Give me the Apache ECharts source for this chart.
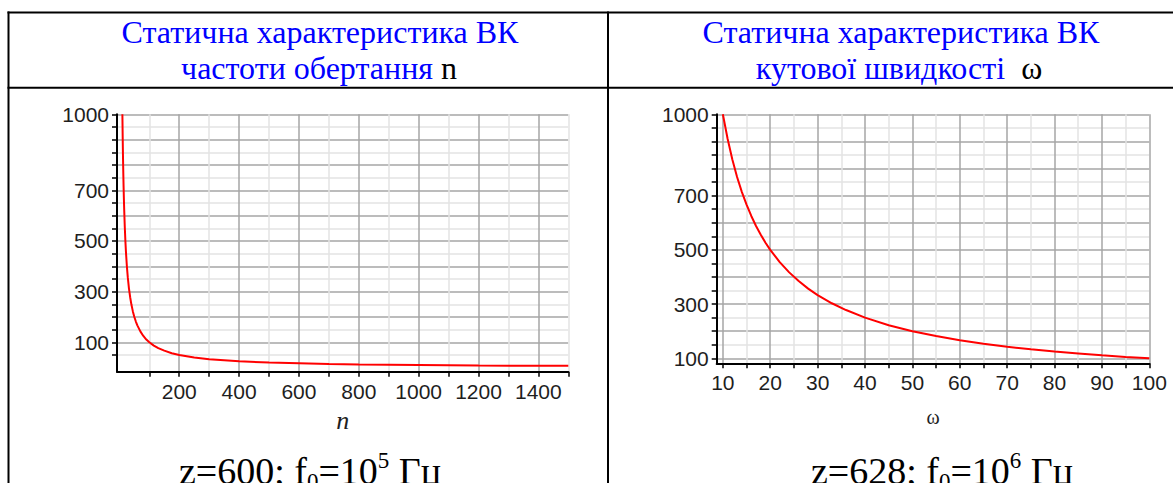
<!DOCTYPE html>
<html>
<head>
<meta charset="utf-8">
<script src="https://cdn.jsdelivr.net/npm/echarts@6/dist/echarts.min.js"></script>
<style>
  html, body { margin: 0; padding: 0; background: #fff; }
  #chart { width: 1173px; height: 483px; }
</style>
</head>
<body>
<div id="chart"></div>
<script>
// ---- Left panel: output vs rotation frequency n (z = 600, f0 = 10^5 Hz) ----
const nValues = [10, 11, 12, 13, 14, 15, 16, 18, 20, 22, 25, 28, 32, 36, 40, 45, 50, 55, 60, 70,
                 80, 90, 100, 115, 130, 150, 175, 200, 250, 300, 350, 400, 500, 600, 700, 800,
                 900, 1000, 1200, 1500];
const nOutput = [1000, 910, 833, 770, 715, 667, 625, 556, 500, 455, 400, 357, 312, 278, 250, 222, 200, 182, 167, 143,
                 125, 111, 100, 87, 77, 67, 57, 50, 40, 33, 29, 25, 20, 17, 14, 12,
                 11, 10, 8, 7];

// ---- Right panel: output vs angular velocity ω (z = 628, f0 = 10^6 Hz) ----
const wValues = [10, 11, 12, 13, 14, 15, 16, 17, 18, 19, 20, 22, 24, 26, 28, 30, 33, 36, 40, 45,
                 50, 55, 60, 65, 70, 75, 80, 85, 90, 95, 100];
const wOutput = [1000, 910, 833, 769, 714, 667, 625, 588, 556, 526, 500, 455, 417, 385, 357, 333, 303, 278, 250, 222,
                 200, 182, 167, 154, 143, 133, 125, 118, 111, 105, 100];

// ---- Tick / grid positions and tick labels ----
const nTicks = [100, 200, 300, 400, 500, 600, 700, 800, 900, 1000, 1100, 1200, 1300, 1400, 1500];
const nTickLabels = [200, 400, 600, 800, 1000, 1200, 1400];
const leftYTicks = [50, 100, 150, 200, 250, 300, 350, 400, 450, 500, 550, 600, 650, 700, 750, 800, 850, 900, 950, 1000];
const leftYTickLabels = [100, 300, 500, 700, 1000];
const wTicks = [10, 15, 20, 25, 30, 35, 40, 45, 50, 55, 60, 65, 70, 75, 80, 85, 90, 95, 100];
const wTickLabels = [10, 20, 30, 40, 50, 60, 70, 80, 90, 100];
const rightYTicks = [100, 150, 200, 250, 300, 350, 400, 450, 500, 550, 600, 650, 700, 750, 800, 850, 900, 950, 1000];
const rightYTickLabels = [100, 300, 500, 700, 1000];

// ---- Text ----
const titleLine1 = 'Статична характеристика ВК';
const leftTitleLine2 = 'частоти обертання ';
const leftTitleVar = 'n';
const rightTitleLine2 = 'кутової швидкості  ';
const rightTitleVar = 'ω';
const leftCaption = ['z=600; f', '0', '=10', '5', ' Гц'];
const rightCaption = ['z=628; f', '0', '=10', '6', ' Гц'];

const LABEL_FONT = "'Liberation Sans', Arial, sans-serif";
const SERIF = "'Liberation Serif', 'DejaVu Serif', serif";
const GRID_DARK = '#a6a6a6';
const GRID_LIGHT = '#e3e3e3';

function axisCommon(opts) {
  return {
    type: 'value',
    gridIndex: opts.grid,
    min: opts.min,
    max: opts.max,
    axisLine: { show: true, onZero: false, lineStyle: { color: '#000', width: 2 } },
    axisTick: { show: true, customValues: opts.ticks, length: 5, lineStyle: { color: '#000', width: 1.5 } },
    axisLabel: {
      customValues: opts.labels, margin: opts.margin, color: '#1e1e1e',
      fontFamily: LABEL_FONT, fontSize: 21,
      formatter: v => String(v)
    },
    splitLine: { show: true, lineStyle: { color: opts.gridColors, width: 1.5 } },
    name: opts.name || '',
    nameLocation: 'middle',
    nameGap: opts.nameGap || 0,
    nameTextStyle: opts.nameStyle || {}
  };
}

function captionText(parts) {
  return '{t|' + parts[0] + '}{sub|' + parts[1] + '}{t|' + parts[2] + '}{sup|' + parts[3] + '}{t|' + parts[4] + '}';
}
const captionRich = {
  t:   { fontFamily: SERIF, fontSize: 38, lineHeight: 44, verticalAlign: 'middle', fill: '#000' },
  sub: { fontFamily: SERIF, fontSize: 23, lineHeight: 24, verticalAlign: 'bottom', fill: '#000' },
  sup: { fontFamily: SERIF, fontSize: 23, lineHeight: 27, verticalAlign: 'top', fill: '#000' }
};
const titleRich = {
  a: { fontFamily: SERIF, fontSize: 32, lineHeight: 36, verticalAlign: 'middle', fill: '#0000ff' },
  b: { fontFamily: SERIF, fontSize: 32, lineHeight: 36, verticalAlign: 'middle', fill: '#000' }
};

const chart = echarts.init(document.getElementById('chart'), null, { renderer: 'svg', width: 1173, height: 483 });

chart.setOption({
  animation: false,
  backgroundColor: '#fff',
  grid: [
    { left: 117, top: 114.3, width: 451.3, height: 257.4 },
    { left: 716.7, top: 114.3, width: 432.6, height: 249 }
  ],
  xAxis: [
    axisCommon({ grid: 0, min: -8, max: 1500, ticks: nTicks, labels: nTickLabels, margin: 9,
      gridColors: [GRID_LIGHT, GRID_DARK], name: 'n', nameGap: 36,
      nameStyle: { fontFamily: SERIF, fontStyle: 'italic', fontSize: 26, color: '#1e1e1e' } }),
    axisCommon({ grid: 1, min: 8.7, max: 100, ticks: wTicks, labels: wTickLabels, margin: 9,
      gridColors: [GRID_DARK, GRID_LIGHT], name: 'ω', nameGap: 44,
      nameStyle: { fontFamily: SERIF, fontSize: 20, color: '#1e1e1e' } })
  ],
  yAxis: [
    axisCommon({ grid: 0, min: -16, max: 1000, ticks: leftYTicks, labels: leftYTickLabels, margin: 8,
      gridColors: [GRID_LIGHT, GRID_DARK] }),
    axisCommon({ grid: 1, min: 81.6, max: 1000, ticks: rightYTicks, labels: rightYTickLabels, margin: 8,
      gridColors: [GRID_DARK, GRID_LIGHT] })
  ],
  series: [
    {
      type: 'line', xAxisIndex: 0, yAxisIndex: 0, showSymbol: false, symbol: 'none',
      lineStyle: { color: '#ff0000', width: 2 },
      data: nValues.map((v, i) => [v, nOutput[i]])
    },
    {
      type: 'line', xAxisIndex: 1, yAxisIndex: 1, showSymbol: false, symbol: 'none',
      lineStyle: { color: '#ff0000', width: 2 },
      data: wValues.map((v, i) => [v, wOutput[i]])
    }
  ],
  graphic: [
    // table rules
    { type: 'rect', shape: { x: 7.5, y: 11.5, width: 1170, height: 2 }, style: { fill: '#000' }, z: 10 },
    { type: 'rect', shape: { x: 7.5, y: 86.8, width: 1170, height: 2 }, style: { fill: '#000' }, z: 10 },
    { type: 'rect', shape: { x: 7.5, y: 11.5, width: 2, height: 480 }, style: { fill: '#000' }, z: 10 },
    { type: 'rect', shape: { x: 607, y: 11.5, width: 2, height: 480 }, style: { fill: '#000' }, z: 10 },
    // headings
    { type: 'text', x: 320, y: 31.5, z: 10,
      style: { text: '{a|' + titleLine1 + '}', rich: titleRich, align: 'center', verticalAlign: 'middle' } },
    { type: 'text', x: 319, y: 67.5, z: 10,
      style: { text: '{a|' + leftTitleLine2 + '}{b|' + leftTitleVar + '}', rich: titleRich, align: 'center', verticalAlign: 'middle' } },
    { type: 'text', x: 901, y: 31.5, z: 10,
      style: { text: '{a|' + titleLine1 + '}', rich: titleRich, align: 'center', verticalAlign: 'middle' } },
    { type: 'text', x: 899, y: 67.5, z: 10,
      style: { text: '{a|' + rightTitleLine2 + '}{b|' + rightTitleVar + '}', rich: titleRich, align: 'center', verticalAlign: 'middle' } },
    // parameter captions
    { type: 'text', x: 310, y: 470.5, z: 10,
      style: { text: captionText(leftCaption), rich: captionRich, align: 'center', verticalAlign: 'middle' } },
    { type: 'text', x: 942, y: 470.5, z: 10,
      style: { text: captionText(rightCaption), rich: captionRich, align: 'center', verticalAlign: 'middle' } }
  ]
});
</script>
</body>
</html>
